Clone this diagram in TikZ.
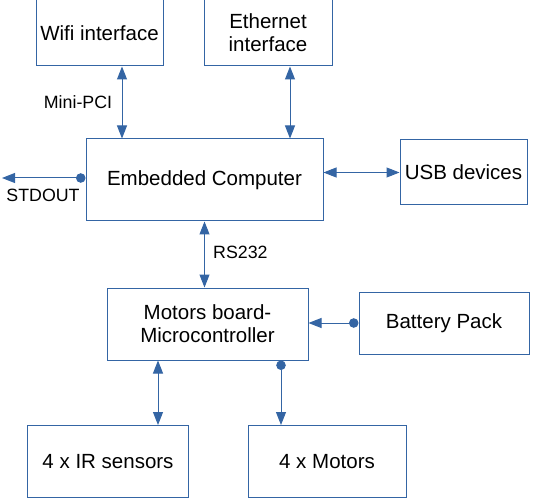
\documentclass[tikz,border=0pt]{standalone}
\usepackage{fontspec}
\setmainfont{Liberation Sans}
\usetikzlibrary{arrows.meta}
\definecolor{lineblue}{HTML}{3465A4}

\begin{document}
\begin{tikzpicture}[x=1pt,y=-1pt,
		block/.style={draw=lineblue,line width=1pt,align=center,inner sep=0pt,
			font=\fontsize{20.5}{23}\selectfont},
		lab/.style={inner sep=0pt,font=\fontsize{17.8}{20}\selectfont},
		wire/.style={lineblue,line width=1pt},
		tip/.tip={Triangle[length=13pt,width=10pt]},
		dot/.tip={Circle[length=9.5pt]}]
			\useasboundingbox (0,0) rectangle (536,500);
			% blocks
			\node[block,minimum width=127pt,minimum height=66pt] (wifi) at (99.5,33) {Wifi interface};
			\node[block,minimum width=128pt,minimum height=66pt] (eth) at (268,33) {Ethernet\\interface};
			\node[block,minimum width=237pt,minimum height=82pt] (emb) at (204.5,180) {Embedded Computer};
			\node[block,minimum width=127pt,minimum height=65pt] (usb) at (463.5,172.5) {USB devices};
			\node[block,minimum width=201pt,minimum height=72pt] (mb) at (207.5,324) {Motors board-\\Microcontroller};
			\node[block,minimum width=170pt,minimum height=62pt] (bat) at (444,323) {Battery Pack};
			\node[block,minimum width=161pt,minimum height=72pt] (ir) at (108,461.5) {4 x IR sensors};
			\node[block,minimum width=158pt,minimum height=72pt] (mot) at (327,461.5) {4 x Motors};
			\coordinate (out) at (2,178);
			% links
			\draw[wire,tip-tip] ([xshift=22.5pt]wifi.south) -- ([xshift=22.5pt]wifi.south |- emb.north);
			\draw[wire,tip-tip] ([xshift=22pt]eth.south) -- ([xshift=22pt]eth.south |- emb.north);
			\draw[wire,tip-tip] (emb.east |- usb.west) -- (usb.west);
			\draw[wire,dot-tip] (emb.west |- out) -- (out);
			\draw[wire,tip-tip] (emb.south) -- (emb.south |- mb.north);
			\draw[wire,dot-tip] (bat.west) -- (bat.west -| mb.east);
			\draw[wire,tip-tip] ([xshift=-49.5pt]mb.south) -- ([xshift=-49.5pt]mb.south |- ir.north);
			\draw[wire,dot-tip] ([xshift=73.5pt]mb.south) -- ([xshift=73.5pt]mb.south |- mot.north);
			% labels
			\node[lab] (pci) at (78,102) {Mini-PCI};
			\node[lab] (std) at (43,195) {STDOUT};
			\node[lab,anchor=west] (rs) at (213,252) {RS232};
		\end{tikzpicture}
\end{document}
